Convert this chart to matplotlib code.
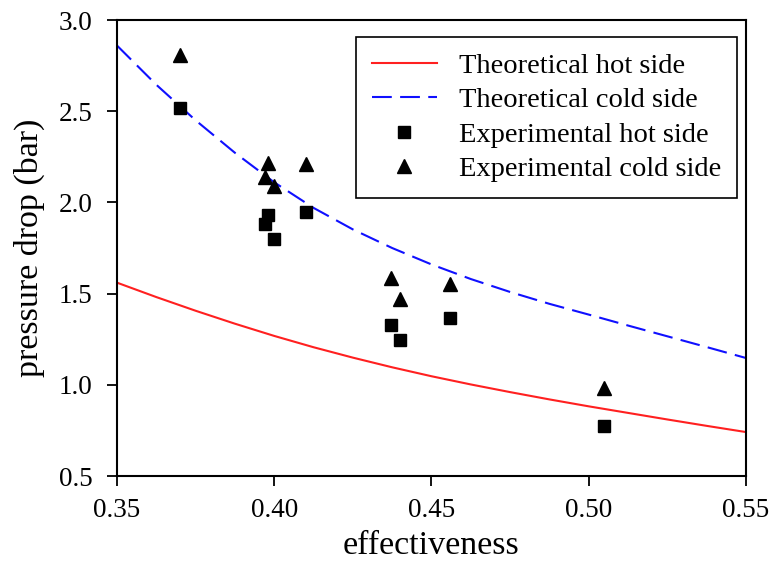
import numpy as np
import matplotlib
matplotlib.use('Agg')
import matplotlib.pyplot as plt

plt.rcParams['font.family'] = ['Liberation Serif', 'DejaVu Serif']

# theoretical curves
eff_theory = [0.35, 0.3625, 0.375, 0.3875, 0.40, 0.4125, 0.425, 0.4375, 0.45,
              0.4625, 0.475, 0.4875, 0.50, 0.5125, 0.525, 0.5375, 0.55]
dp_hot_theory = [1.56, 1.481, 1.406, 1.335, 1.268, 1.206, 1.149, 1.096, 1.047,
                 1.002, 0.96, 0.92, 0.882, 0.846, 0.81, 0.775, 0.741]
dp_cold_theory = [2.86, 2.645, 2.45, 2.272, 2.11, 1.97, 1.852, 1.75, 1.66,
                  1.58, 1.509, 1.444, 1.385, 1.325, 1.266, 1.207, 1.147]

# experimental points
eff_exp = [0.370, 0.398, 0.397, 0.400, 0.410, 0.437, 0.440, 0.456, 0.505]
dp_hot_exp = [2.52, 1.93, 1.88, 1.80, 1.95, 1.33, 1.245, 1.365, 0.775]
dp_cold_exp = [2.81, 2.215, 2.14, 2.09, 2.21, 1.585, 1.47, 1.555, 0.985]

fig = plt.figure(figsize=(7.73, 5.61), dpi=100)
ax = fig.add_axes([0.1514, 0.1515, 0.8136, 0.8128])

ax.plot(eff_theory, dp_hot_theory, '-', color='#ff2020', lw=1.5,
        label='Theoretical hot side')
ax.plot(eff_theory, dp_cold_theory, '--', color='#1010ff', lw=1.5,
        dashes=(9.5, 4), label='Theoretical cold side')
ax.plot(eff_exp, dp_hot_exp, 's', color='black', ms=8.5, ls='none',
        label='Experimental hot side')
ax.plot(eff_exp, dp_cold_exp, '^', color='black', ms=9.5, ls='none',
        label='Experimental cold side')

ax.set_xlim(0.35, 0.55)
ax.set_ylim(0.5, 3.0)
ax.set_xticks(np.arange(0.35, 0.551, 0.05))
ax.set_yticks(np.arange(0.5, 3.01, 0.5))
ax.set_xticklabels(['0.35', '0.40', '0.45', '0.50', '0.55'])
ax.set_yticklabels(['0.5', '1.0', '1.5', '2.0', '2.5', '3.0'])
ax.tick_params(direction='out', length=7, width=1.3, labelsize=19.5,
               top=False, right=False)
ax.tick_params(axis='x', pad=9)
ax.tick_params(axis='y', pad=10.5)
for s in ax.spines.values():
    s.set_linewidth(1.5)

ax.set_xlabel('effectiveness', fontsize=24.5, labelpad=5)
ax.set_ylabel('pressure drop (bar)', fontsize=24.5, labelpad=10)

leg = ax.legend(loc='upper right', bbox_to_anchor=(0.9857, 0.9627),
                borderaxespad=0, fontsize=20.5, handlelength=2.3,
                handletextpad=0.77, fancybox=False, edgecolor='black',
                framealpha=1, labelspacing=0.3, borderpad=0.55)
leg.get_frame().set_linewidth(1.2)

fig.savefig('out.png', dpi=100)
